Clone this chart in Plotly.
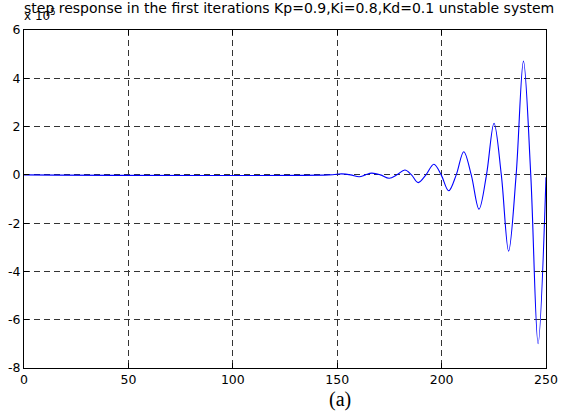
import plotly.graph_objects as go

# Step response samples (values in units of 1e5)
t_vals = [0, 146, 152.2, 156.4, 160.6, 163.5, 166.5, 170.7, 174.9, 178.6, 182.4, 185.6,
          188.8, 192.5, 196.3, 199.8, 203.4, 207.0, 210.6, 214.2, 217.9, 221.5, 225.1,
          228.6, 232.1, 235.7, 239.2, 242.7, 246.2, 250]
y_vals = [0, 0, 0.04, 0, -0.08, 0, 0.07, 0, -0.14, 0, 0.2, 0,
          -0.32, 0, 0.44, 0, -0.66, 0, 0.96, 0, -1.42, 0, 2.14,
          0, -3.16, 0, 4.71, 0, -6.99, -0.1]

x_ticks = [0, 50, 100, 150, 200, 250]
y_ticks = [-8, -6, -4, -2, 0, 2, 4, 6]

title_text = "step response in the first iterations Kp=0.9,Ki=0.8,Kd=0.1 unstable system"
caption = "(a)"

fig = go.Figure()
fig.add_trace(go.Scatter(x=t_vals, y=y_vals, mode="lines",
                         line=dict(color="#0000ff", width=1.1, shape="spline", smoothing=1.0),
                         showlegend=False, hoverinfo="skip"))

axis_common = dict(showline=True, linecolor="black", linewidth=1, mirror="ticks",
                   ticks="inside", ticklen=5, tickcolor="black",
                   showgrid=True, gridcolor="#333333", gridwidth=1, griddash="6px,4px",
                   zeroline=False, automargin=False,
                   tickfont=dict(family="DejaVu Sans", size=12.5, color="black"))

fig.update_xaxes(range=[0, 250], tickvals=x_ticks, ticktext=[str(v) for v in x_ticks], **axis_common)
fig.update_yaxes(range=[-8, 6], tickvals=y_ticks, ticktext=[str(v) for v in y_ticks],
                 ticklabelstandoff=0, **axis_common)

fig.add_annotation(text=title_text, xref="paper", yref="paper", x=0.508, y=1.065,
                   xanchor="center", yanchor="middle", showarrow=False,
                   font=dict(family="DejaVu Sans", size=14, color="black"))
fig.add_annotation(text="x 10<sup>5</sup>", xref="paper", yref="paper", x=-0.003, y=1.045,
                   xanchor="left", yanchor="middle", showarrow=False,
                   font=dict(family="DejaVu Sans", size=12, color="black"))
fig.add_annotation(text=caption, xref="paper", yref="paper", x=0.605, y=-0.092,
                   xanchor="center", yanchor="middle", showarrow=False,
                   font=dict(family="Liberation Serif, Times New Roman", size=20, color="black"))

fig.update_layout(width=561, height=417, margin=dict(l=24, r=15, t=30, b=49),
                  paper_bgcolor="white", plot_bgcolor="white")

fig.write_html("out.html", config={"displayModeBar": False},
               post_script="document.body.style.margin='0';")
